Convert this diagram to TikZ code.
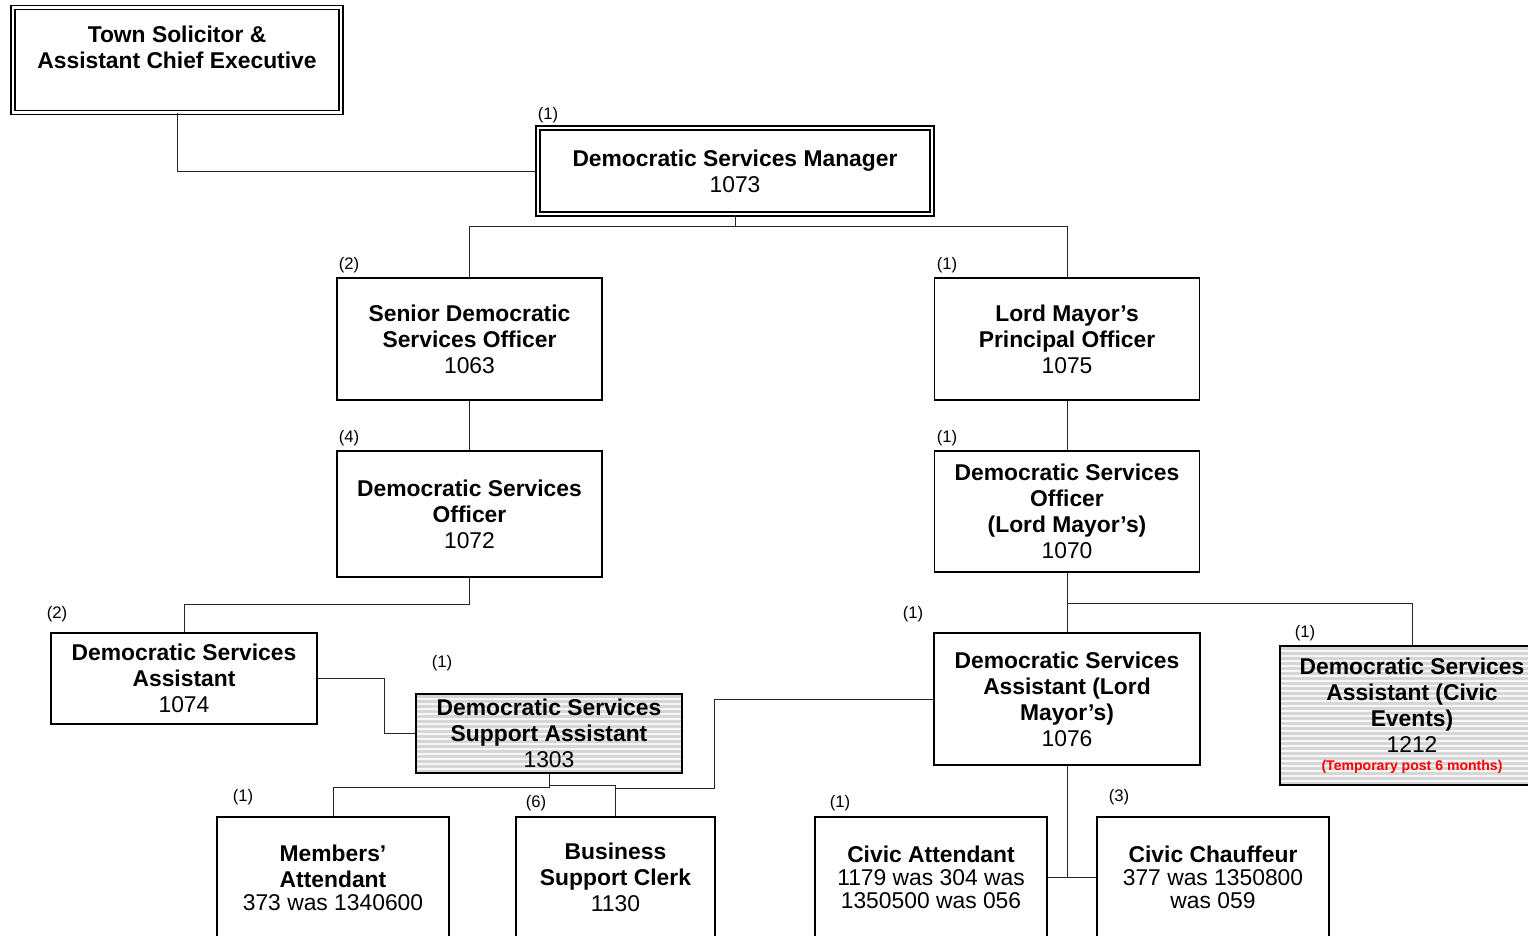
\documentclass[tikz,border=0pt]{standalone}
\usepackage{fontspec}
\setmainfont{Liberation Sans}
\usetikzlibrary{positioning}

\tikzset{
  post/.style={draw=black, line width=0.75pt, fill=white, inner sep=0pt, align=center,
    font=\fontsize{13}{14.8}\selectfont},
  chief/.style={post, line width=0.7pt, double, double distance=1.6pt},
  stripes/.style={fill=gray!6, path picture={
    \foreach \k in {0,...,30}{
      \pgfmathsetmacro\yy{-0.05-\k*0.1}
      \draw[gray!32, line width=1.2pt]
        ([yshift=\yy cm]path picture bounding box.north west) --
        ([yshift=\yy cm]path picture bounding box.north east);
    }}},
  conn/.style={draw=black!85, line width=0.5pt},
  count/.style={font=\fontsize{9.5}{11}\selectfont, inner sep=0pt},
}

\begin{document}
\begin{tikzpicture}[x=0.02cm, y=-0.02cm]
    \useasboundingbox (0,0) rectangle (1528,936);
    \clip (0,0) rectangle (1528,936);

    % Top of the structure
    \node[chief, minimum width=6.56cm, minimum height=2.1cm] (tsace) at (177,60)
        {\textbf{Town Solicitor \&}\\\textbf{Assistant Chief Executive}\\\mbox{}};
    \node[chief, minimum width=7.88cm, minimum height=1.72cm] (dsm) at (735,171)
        {\textbf{Democratic Services Manager}\\1073};

    % Left branch
    \node[post, minimum width=5.3cm, minimum height=2.44cm] (sdso) at (469.5,339)
        {\textbf{Senior Democratic}\\\textbf{Services Officer}\\1063};
    \node[post, minimum width=5.3cm, minimum height=2.52cm] (dso) at (469.5,514)
        {\textbf{Democratic Services}\\\textbf{Officer}\\1072};
    \node[post, minimum width=5.32cm, minimum height=1.82cm] (dsa) at (184,678.5)
        {\textbf{Democratic Services}\\\textbf{Assistant}\\1074};
    \node[post, stripes, minimum width=5.32cm, minimum height=1.58cm] (dssa) at (549,733.5)
        {\textbf{Democratic Services}\\\textbf{Support Assistant}\\1303};
    \node[post, minimum width=4.64cm, minimum height=2.44cm] (ma) at (333,878)
        {\textbf{Members'}\\\textbf{Attendant}\\[-1.7pt]373 was 1340600};
    \node[post, minimum width=3.98cm, minimum height=2.4cm] (bsc) at (615.5,877)
        {\textbf{Business}\\\textbf{Support Clerk}\\1130};

    % Right branch
    \node[post, minimum width=5.3cm, minimum height=2.44cm] (lmpo) at (1067,339)
        {\textbf{Lord Mayor's}\\\textbf{Principal Officer}\\1075};
    \node[post, minimum width=5.3cm, minimum height=2.42cm] (dsolm) at (1067,511.5)
        {\textbf{Democratic Services}\\\textbf{Officer}\\\textbf{(Lord Mayor's)}\\1070};
    \node[post, minimum width=5.32cm, minimum height=2.64cm] (dsalm) at (1067,699)
        {\textbf{Democratic Services}\\\textbf{Assistant (Lord}\\\textbf{Mayor's)}\\1076};
    \node[post, stripes, minimum width=5.28cm, minimum height=2.78cm] (dsace) at (1412,715.5)
        {\textbf{Democratic Services}\\\textbf{Assistant (Civic}\\\textbf{Events)}\\1212\\[-4.7pt]
         {\color{red}\fontsize{8}{9}\selectfont\bfseries (Temporary post 6 months)}};
    \node[post, minimum width=4.64cm, minimum height=2.4cm] (ca) at (931,877)
        {\textbf{Civic Attendant}\\[-1.7pt]1179 was 304 was\\[-1.7pt]1350500 was 056};
    \node[post, minimum width=4.64cm, minimum height=2.4cm] (cc) at (1213,877)
        {\textbf{Civic Chauffeur}\\[-1.7pt]377 was 1350800\\[-1.7pt]was 059};

    % Connectors
    \coordinate (bscj) at (615.5,788);
    \draw[conn] (tsace.south) |- (dsm.west);
    \draw[conn] (dsm.south) -- ++(0,12) -| (sdso.north);
    \draw[conn] (dsm.south) -- ++(0,12) -| (lmpo.north);
    \draw[conn] (sdso.south) -- (dso.north);
    \draw[conn] (dso.south) -- ++(0,27) -| (dsa.north);
    \draw[conn] (dsa.east) -- ++(67,0) |- (dssa.west);
    \draw[conn] (dssa.south) -- ++(0,14) -| (ma.north);
    \draw[conn] (dssa.south) -- ++(0,12) -| (bsc.north);
    \draw[conn] (dsalm.west) -- ++(-219,0) |- (bscj);
    \draw[conn] (lmpo.south) -- (dsolm.north);
    \draw[conn] (dsolm.south) -- (dsalm.north);
    \draw[conn] (dsolm.south) -- ++(0,31) -| (dsace.north);
    \draw[conn] (dsalm.south) -- (dsalm.south |- ca.east);
    \draw[conn] (ca.east) -- (cc.west);

    % Head counts
    \foreach \x/\y/\t [count=\i] in {548/115/1, 349/265/2, 947/265/1, 349/438/4,
        947/438/1, 57/614/2, 913/614/1, 442/663/1, 1305/633/1, 243/797/1,
        536/803/6, 840/803/1, 1119/797/3} {
        \node[count] (cnt\i) at (\x,\y) {(\t)};
    }
\end{tikzpicture}
\end{document}
